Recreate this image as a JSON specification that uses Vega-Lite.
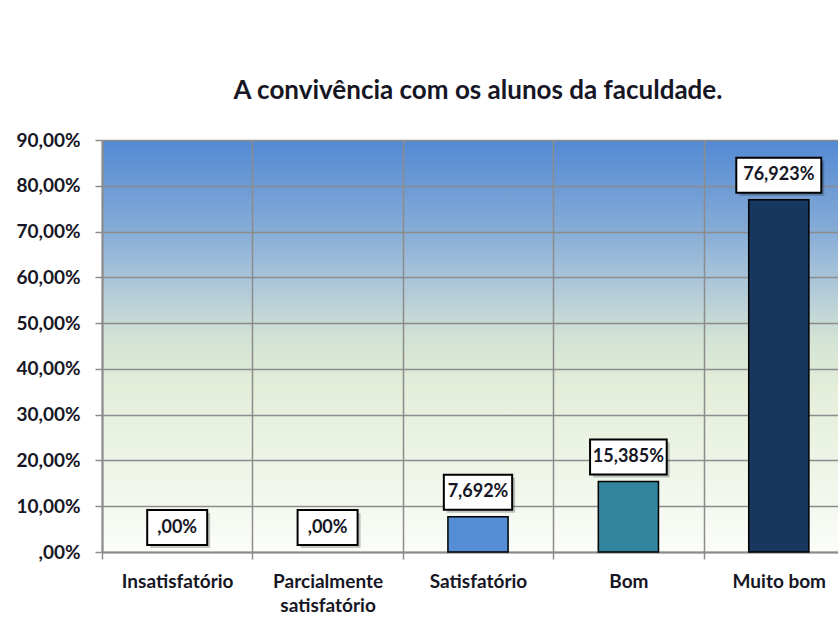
{
  "$schema": "https://vega.github.io/schema/vega-lite/v6.json",
  "width": 752,
  "height": 412,
  "autosize": {"type": "none"},
  "padding": {"left": 102, "top": 140, "right": 0, "bottom": 73},
  "background": "white",
  "config": {
    "font": "Lato",
    "view": {
      "stroke": null,
      "fill": {
        "gradient": "linear", "x1": 0, "y1": 0, "x2": 0, "y2": 1,
        "stops": [
          {"offset": 0, "color": "#5389d4"},
          {"offset": 0.22, "color": "#86acd6"},
          {"offset": 0.35, "color": "#adc7d9"},
          {"offset": 0.48, "color": "#d2e2d4"},
          {"offset": 0.6, "color": "#e4eed9"},
          {"offset": 0.8, "color": "#eef5e8"},
          {"offset": 1, "color": "#fbfdf9"}
        ]
      }
    }
  },
  "title": {
    "text": "A convivência com os alunos da faculdade.",
    "font": "Lato", "fontSize": 26, "fontWeight": "bold", "color": "#161625",
    "anchor": "middle", "offset": 27
  },
  "data": {
    "values": [
      {"categoria": "Insatisfatório", "valor": 0, "rotulo": ",00%"},
      {"categoria": "Parcialmente satisfatório", "valor": 0, "rotulo": ",00%"},
      {"categoria": "Satisfatório", "valor": 7.692, "rotulo": "7,692%"},
      {"categoria": "Bom", "valor": 15.385, "rotulo": "15,385%"},
      {"categoria": "Muito bom", "valor": 76.923, "rotulo": "76,923%"}
    ]
  },
  "encoding": {
    "x": {
      "field": "categoria", "type": "nominal", "sort": null,
      "scale": {"domain": ["Insatisfatório", "Parcialmente satisfatório", "Satisfatório", "Bom", "Muito bom"], "paddingInner": 0, "paddingOuter": 0},
      "axis": {
        "title": null, "labelAngle": 0, "tickBand": "extent",
        "grid": true, "gridColor": "#8c8c8c", "gridWidth": 1.5,
        "domainColor": "#8c8c8c", "domainWidth": 2,
        "tickColor": "#8c8c8c", "tickSize": 7, "tickWidth": 1.5,
        "labelFont": "Lato", "labelFontSize": 19, "labelFontWeight": "bold",
        "labelColor": "#161625", "labelPadding": 13, "labelLineHeight": 24,
        "labelExpr": "datum.value == 'Parcialmente satisfatório' ? ['Parcialmente', 'satisfatório'] : datum.value"
      }
    },
    "y": {
      "field": "valor", "type": "quantitative",
      "scale": {"domain": [0, 90], "nice": false},
      "axis": {
        "title": null, "values": [0, 10, 20, 30, 40, 50, 60, 70, 80, 90],
        "grid": true, "gridColor": "#8c8c8c", "gridWidth": 1.5,
        "domainColor": "#8c8c8c", "domainWidth": 2,
        "tickColor": "#8c8c8c", "tickSize": 7, "tickWidth": 1.5,
        "labelFont": "Lato", "labelFontSize": 19, "labelFontWeight": "bold",
        "labelColor": "#161625", "labelPadding": 15,
        "labelExpr": "datum.value == 0 ? ',00%' : replace(format(datum.value, '.2f'), '.', ',') + '%'"
      }
    }
  },
  "layer": [
    {
      "transform": [{"filter": "datum.valor > 0"}],
      "mark": {"type": "bar", "width": {"band": 0.4}, "stroke": "#000000", "strokeWidth": 1.5},
      "encoding": {
        "color": {
          "field": "categoria", "type": "nominal", "legend": null,
          "scale": {"domain": ["Satisfatório", "Bom", "Muito bom"], "range": ["#558ed5", "#31859c", "#17375e"]}
        }
      }
    },
    {
      "mark": {"type": "bar", "fill": "#000000", "opacity": 0.22, "xOffset": 3, "yOffset": -39, "y2Offset": -4},
      "encoding": {
        "y2": {"field": "valor"},
        "size": {"field": "rotulo", "type": "ordinal", "legend": null,
          "scale": {"domain": [",00%", "7,692%", "15,385%", "76,923%"], "range": [60, 85, 95, 95]}}
      }
    },
    {
      "mark": {"type": "bar", "fill": "#ffffff", "stroke": "#000000", "strokeWidth": 2, "yOffset": -42, "y2Offset": -7},
      "encoding": {
        "y2": {"field": "valor"},
        "size": {"field": "rotulo", "type": "ordinal", "legend": null,
          "scale": {"domain": [",00%", "7,692%", "15,385%", "76,923%"], "range": [60, 85, 95, 95]}}
      }
    },
    {
      "mark": {"type": "text", "font": "Lato", "fontSize": 18, "fontWeight": "bold", "color": "#161625", "baseline": "middle", "yOffset": -24.5},
      "encoding": {"text": {"field": "rotulo"}}
    }
  ]
}
